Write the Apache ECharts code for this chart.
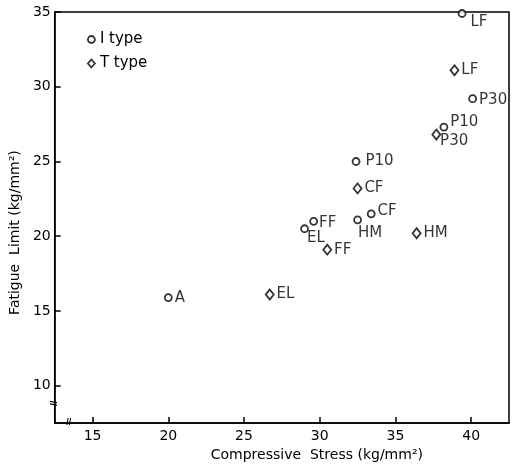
<!DOCTYPE html>
<html>
<head>
<meta charset="utf-8">
<script src="https://cdn.jsdelivr.net/npm/echarts@6/dist/echarts.min.js"></script>
<style>
  html, body { margin: 0; padding: 0; background: #fff; }
  #mainchart { width: 514px; height: 467px; }
</style>
</head>
<body>
<div id="mainchart"></div>
<script>
// data
var iTypeNames = ['A', 'LF', 'P30', 'P10', 'P10', 'CF', 'HM', 'FF', 'EL'];
var iTypeStress = [20.0, 39.4, 40.1, 38.2, 32.4, 33.4, 32.5, 29.6, 29.0];
var iTypeLimit = [15.9, 34.9, 29.2, 27.3, 25.0, 21.5, 21.1, 21.0, 20.5];

var tTypeNames = ['EL', 'FF', 'HM', 'CF', 'P30', 'LF'];
var tTypeStress = [26.7, 30.5, 36.4, 32.5, 37.7, 38.9];
var tTypeLimit = [16.1, 19.1, 20.2, 23.2, 26.8, 31.1];

var xTicks = [15, 20, 25, 30, 35, 40];
var yTicks = [10, 15, 20, 25, 30, 35];

// label nudges, per series index
var iOffsets = [[0, 1], [2, 9], [0, 1], [0, -5], [3, 0], [0, -3], [-6, 13], [-1, 2], [-4, 9]];
var tOffsets = [[0, 0], [0, 0], [0, 0], [0, 0], [-3, 7], [0, 0]];

function makeData(xs, ys, names, offsets) {
    return xs.map(function(x, i) {
        return {
            value: [x, ys[i]],
            name: names[i],
            label: { offset: offsets[i] }
        };
    });
}

var myChart = echarts.init(document.getElementById('mainchart'));

var font = 'DejaVu Sans';
var markStyle = { color: '#fff', borderColor: '#000', borderWidth: 1.8 };
var labelStyle = {
    show: true,
    position: 'right',
    distance: 2,
    formatter: '{b}',
    color: '#000',
    fontFamily: font,
    fontSize: 15
};

var option = {
    animation: false,
    backgroundColor: '#fff',
    textStyle: { fontFamily: font },
    grid: { left: 52, right: 5, top: 12, bottom: 41, show: true, borderColor: '#000', borderWidth: 1.5 },
    legend: {
        orient: 'vertical',
        left: 82,
        top: 27,
        itemGap: 9,
        itemWidth: 7,
        itemHeight: 8,
        textStyle: { fontSize: 15, color: '#000', fontFamily: font },
        data: [
            { name: 'I type', icon: 'circle', itemStyle: markStyle },
            { name: 'T type', icon: 'diamond', itemStyle: markStyle }
        ]
    },
    xAxis: {
        type: 'value',
        min: 12.5,
        max: 42.5,
        name: 'Compressive  Stress (kg/mm²)',
        nameLocation: 'middle',
        nameGap: 23,
        nameTextStyle: { fontSize: 14, color: '#000', padding: [0, 0, 0, 70] },
        axisLine: { lineStyle: { color: '#000', width: 1.5 } },
        axisTick: { inside: true, length: 6, customValues: xTicks, lineStyle: { color: '#000', width: 1.5 } },
        axisLabel: { customValues: xTicks, color: '#000', fontSize: 14, margin: 6 },
        splitLine: { show: false }
    },
    yAxis: {
        type: 'value',
        min: 7.5,
        max: 35,
        name: 'Fatigue  Limit (kg/mm²)',
        nameLocation: 'middle',
        nameGap: 30,
        nameTextStyle: { fontSize: 14, color: '#000', padding: [0, 0, 0, -30] },
        axisLine: { lineStyle: { color: '#000', width: 1.5 } },
        axisTick: { inside: true, length: 6, customValues: yTicks, lineStyle: { color: '#000', width: 1.5 } },
        axisLabel: { customValues: yTicks, color: '#000', fontSize: 14, margin: 4 },
        splitLine: { show: false }
    },
    series: [
        {
            name: 'I type',
            type: 'scatter',
            symbol: 'circle',
            symbolSize: 7,
            itemStyle: markStyle,
            label: labelStyle,
            data: makeData(iTypeStress, iTypeLimit, iTypeNames, iOffsets)
        },
        {
            name: 'T type',
            type: 'scatter',
            symbol: 'diamond',
            symbolSize: [8, 10],
            itemStyle: markStyle,
            label: labelStyle,
            data: makeData(tTypeStress, tTypeLimit, tTypeNames, tOffsets)
        }
    ]
};
myChart.setOption(option);

// axis break marks near the origin
var bx = myChart.convertToPixel({ xAxisIndex: 0 }, 13.6);
var by = myChart.convertToPixel({ yAxisIndex: 0 }, 8.6);
var x0 = myChart.convertToPixel({ xAxisIndex: 0 }, 12.5);
var y0 = myChart.convertToPixel({ yAxisIndex: 0 }, 7.5);
myChart.setOption({
    graphic: [
        { type: 'text', left: bx - 5, top: y0 - 5, style: { text: '//', fontSize: 9, fill: '#000', fontWeight: 'bold' } },
        { type: 'text', left: x0 - 5, top: by - 6, rotation: Math.PI / 2, style: { text: '//', fontSize: 9, fill: '#000', fontWeight: 'bold' } }
    ]
});
</script>
</body>
</html>
